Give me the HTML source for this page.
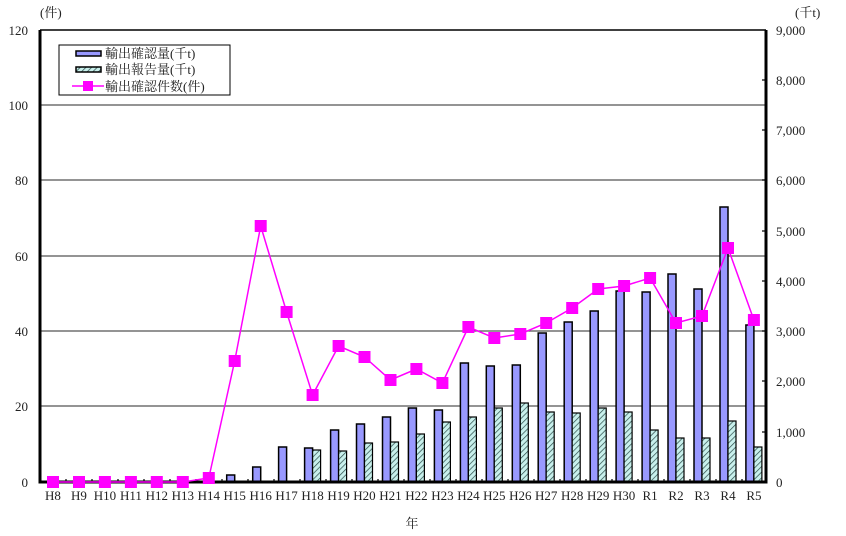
<!DOCTYPE html><html><head><meta charset="utf-8"><style>body{margin:0;background:#fff}svg{display:block}text{font-family:"Liberation Serif","Noto Serif CJK SC",serif;font-size:13px;fill:#222}</style></head><body>
<svg width="846" height="536" viewBox="0 0 846 536">
<defs><pattern id="h" width="4" height="4" patternUnits="userSpaceOnUse" patternTransform="rotate(45)"><rect width="4" height="4" fill="#c8f0ec"/><line x1="0" y1="0" x2="0" y2="4" stroke="#2a4a48" stroke-width="1.4"/></pattern></defs>
<g stroke="#555" stroke-width="1.2">
<line x1="40" y1="105" x2="766" y2="105"/><line x1="40" y1="180" x2="766" y2="180"/><line x1="40" y1="256" x2="766" y2="256"/><line x1="40" y1="331" x2="766" y2="331"/><line x1="40" y1="406" x2="766" y2="406"/>
</g>
<g stroke="#000" stroke-width="1.5" fill="#9999ff">
<rect x="226.7" y="475" width="8" height="7"/><rect x="252.7" y="467" width="8" height="15"/><rect x="278.6" y="447" width="8" height="35"/><rect x="304.6" y="448" width="8" height="34"/><rect x="330.6" y="430" width="8" height="52"/><rect x="356.5" y="424" width="8" height="58"/><rect x="382.5" y="417" width="8" height="65"/><rect x="408.4" y="408" width="8" height="74"/><rect x="434.4" y="410" width="8" height="72"/><rect x="460.4" y="363" width="8" height="119"/><rect x="486.3" y="366" width="8" height="116"/><rect x="512.3" y="365" width="8" height="117"/><rect x="538.2" y="333" width="8" height="149"/><rect x="564.2" y="322" width="8" height="160"/><rect x="590.2" y="311" width="8" height="171"/><rect x="616.1" y="291" width="8" height="191"/><rect x="642.1" y="292" width="8" height="190"/><rect x="668" y="274" width="8" height="208"/><rect x="694" y="289" width="8" height="193"/><rect x="720" y="207" width="8" height="275"/><rect x="745.9" y="325" width="8" height="157"/>
</g>
<g stroke="#000" stroke-width="1.2" fill="url(#h)">
<rect x="312.6" y="450" width="8" height="32"/><rect x="338.6" y="451" width="8" height="31"/><rect x="364.5" y="443" width="8" height="39"/><rect x="390.5" y="442" width="8" height="40"/><rect x="416.4" y="434" width="8" height="48"/><rect x="442.4" y="422" width="8" height="60"/><rect x="468.4" y="417" width="8" height="65"/><rect x="494.3" y="408" width="8" height="74"/><rect x="520.3" y="403" width="8" height="79"/><rect x="546.2" y="412" width="8" height="70"/><rect x="572.2" y="413" width="8" height="69"/><rect x="598.2" y="408" width="8" height="74"/><rect x="624.1" y="412" width="8" height="70"/><rect x="650.1" y="430" width="8" height="52"/><rect x="676" y="438" width="8" height="44"/><rect x="702" y="438" width="8" height="44"/><rect x="728" y="421" width="8" height="61"/><rect x="753.9" y="447" width="8" height="35"/>
</g>
<g stroke="#000" stroke-width="3" fill="none"><polyline points="40,30 40,482 766,482 766,30"/></g>
<line x1="40" y1="30" x2="766" y2="30" stroke="#000" stroke-width="1.5"/>
<g stroke="#000" stroke-width="1.2">
<line x1="66" y1="479" x2="66" y2="482"/><line x1="92" y1="479" x2="92" y2="482"/><line x1="118" y1="479" x2="118" y2="482"/><line x1="144" y1="479" x2="144" y2="482"/><line x1="170" y1="479" x2="170" y2="482"/><line x1="196" y1="479" x2="196" y2="482"/><line x1="222" y1="479" x2="222" y2="482"/><line x1="248" y1="479" x2="248" y2="482"/><line x1="274" y1="479" x2="274" y2="482"/><line x1="300" y1="479" x2="300" y2="482"/><line x1="326" y1="479" x2="326" y2="482"/><line x1="352" y1="479" x2="352" y2="482"/><line x1="378" y1="479" x2="378" y2="482"/><line x1="404" y1="479" x2="404" y2="482"/><line x1="430" y1="479" x2="430" y2="482"/><line x1="456" y1="479" x2="456" y2="482"/><line x1="482" y1="479" x2="482" y2="482"/><line x1="508" y1="479" x2="508" y2="482"/><line x1="534" y1="479" x2="534" y2="482"/><line x1="560" y1="479" x2="560" y2="482"/><line x1="586" y1="479" x2="586" y2="482"/><line x1="612" y1="479" x2="612" y2="482"/><line x1="638" y1="479" x2="638" y2="482"/><line x1="664" y1="479" x2="664" y2="482"/><line x1="690" y1="479" x2="690" y2="482"/><line x1="716" y1="479" x2="716" y2="482"/><line x1="742" y1="479" x2="742" y2="482"/>
<line x1="762" y1="80" x2="766" y2="80"/><line x1="762" y1="130" x2="766" y2="130"/><line x1="762" y1="180" x2="766" y2="180"/><line x1="762" y1="231" x2="766" y2="231"/><line x1="762" y1="281" x2="766" y2="281"/><line x1="762" y1="331" x2="766" y2="331"/><line x1="762" y1="381" x2="766" y2="381"/><line x1="762" y1="432" x2="766" y2="432"/>
</g>
<polyline fill="none" stroke="#ff00ff" stroke-width="1.5" points="53,482 79,482 104.9,482 130.9,482 156.8,482 182.8,482 208.8,478 234.7,361 260.7,226 286.6,312 312.6,395 338.6,346 364.5,357 390.5,380 416.4,369 442.4,383 468.4,327 494.3,338 520.3,334 546.2,323 572.2,308 598.2,289 624.1,286 650.1,278 676,323 702,316 728,248 753.9,320"/>
<g fill="#ff00ff">
<rect x="47" y="476" width="12" height="12"/><rect x="73" y="476" width="12" height="12"/><rect x="98.9" y="476" width="12" height="12"/><rect x="124.9" y="476" width="12" height="12"/><rect x="150.8" y="476" width="12" height="12"/><rect x="176.8" y="476" width="12" height="12"/><rect x="202.8" y="472" width="12" height="12"/><rect x="228.7" y="355" width="12" height="12"/><rect x="254.7" y="220" width="12" height="12"/><rect x="280.6" y="306" width="12" height="12"/><rect x="306.6" y="389" width="12" height="12"/><rect x="332.6" y="340" width="12" height="12"/><rect x="358.5" y="351" width="12" height="12"/><rect x="384.5" y="374" width="12" height="12"/><rect x="410.4" y="363" width="12" height="12"/><rect x="436.4" y="377" width="12" height="12"/><rect x="462.4" y="321" width="12" height="12"/><rect x="488.3" y="332" width="12" height="12"/><rect x="514.3" y="328" width="12" height="12"/><rect x="540.2" y="317" width="12" height="12"/><rect x="566.2" y="302" width="12" height="12"/><rect x="592.2" y="283" width="12" height="12"/><rect x="618.1" y="280" width="12" height="12"/><rect x="644.1" y="272" width="12" height="12"/><rect x="670" y="317" width="12" height="12"/><rect x="696" y="310" width="12" height="12"/><rect x="722" y="242" width="12" height="12"/><rect x="747.9" y="314" width="12" height="12"/>
</g>
<g text-anchor="end"><text x="28" y="35">120</text><text x="28" y="110">100</text><text x="28" y="185">80</text><text x="28" y="261">60</text><text x="28" y="336">40</text><text x="28" y="411">20</text><text x="28" y="487">0</text></g>
<text x="40" y="17">(件)</text><text x="795" y="17">(千t)</text>
<g><text x="776" y="35">9,000</text><text x="776" y="85">8,000</text><text x="776" y="135">7,000</text><text x="776" y="185">6,000</text><text x="776" y="236">5,000</text><text x="776" y="286">4,000</text><text x="776" y="336">3,000</text><text x="776" y="386">2,000</text><text x="776" y="437">1,000</text><text x="776" y="487">0</text></g>
<g text-anchor="middle"><text x="53" y="500">H8</text><text x="79" y="500">H9</text><text x="104.9" y="500">H10</text><text x="130.9" y="500">H11</text><text x="156.8" y="500">H12</text><text x="182.8" y="500">H13</text><text x="208.8" y="500">H14</text><text x="234.7" y="500">H15</text><text x="260.7" y="500">H16</text><text x="286.6" y="500">H17</text><text x="312.6" y="500">H18</text><text x="338.6" y="500">H19</text><text x="364.5" y="500">H20</text><text x="390.5" y="500">H21</text><text x="416.4" y="500">H22</text><text x="442.4" y="500">H23</text><text x="468.4" y="500">H24</text><text x="494.3" y="500">H25</text><text x="520.3" y="500">H26</text><text x="546.2" y="500">H27</text><text x="572.2" y="500">H28</text><text x="598.2" y="500">H29</text><text x="624.1" y="500">H30</text><text x="650.1" y="500">R1</text><text x="676" y="500">R2</text><text x="702" y="500">R3</text><text x="728" y="500">R4</text><text x="753.9" y="500">R5</text><text x="412" y="528">年</text></g>
<rect x="59" y="45" width="171" height="50" fill="#fff" stroke="#000" stroke-width="1"/>
<rect x="76" y="51" width="25" height="5" fill="#9999ff" stroke="#000" stroke-width="1.5"/>
<rect x="76" y="67" width="25" height="5" fill="url(#h)" stroke="#000" stroke-width="1.5"/>
<line x1="72" y1="86" x2="104" y2="86" stroke="#ff00ff" stroke-width="1.5"/><rect x="83" y="81" width="10" height="10" fill="#ff00ff"/>
<g style="font-size:12.5px"><text x="105" y="58">輸出確認量(千t)</text><text x="105" y="74">輸出報告量(千t)</text><text x="105" y="91">輸出確認件数(件)</text></g>
</svg></body></html>
